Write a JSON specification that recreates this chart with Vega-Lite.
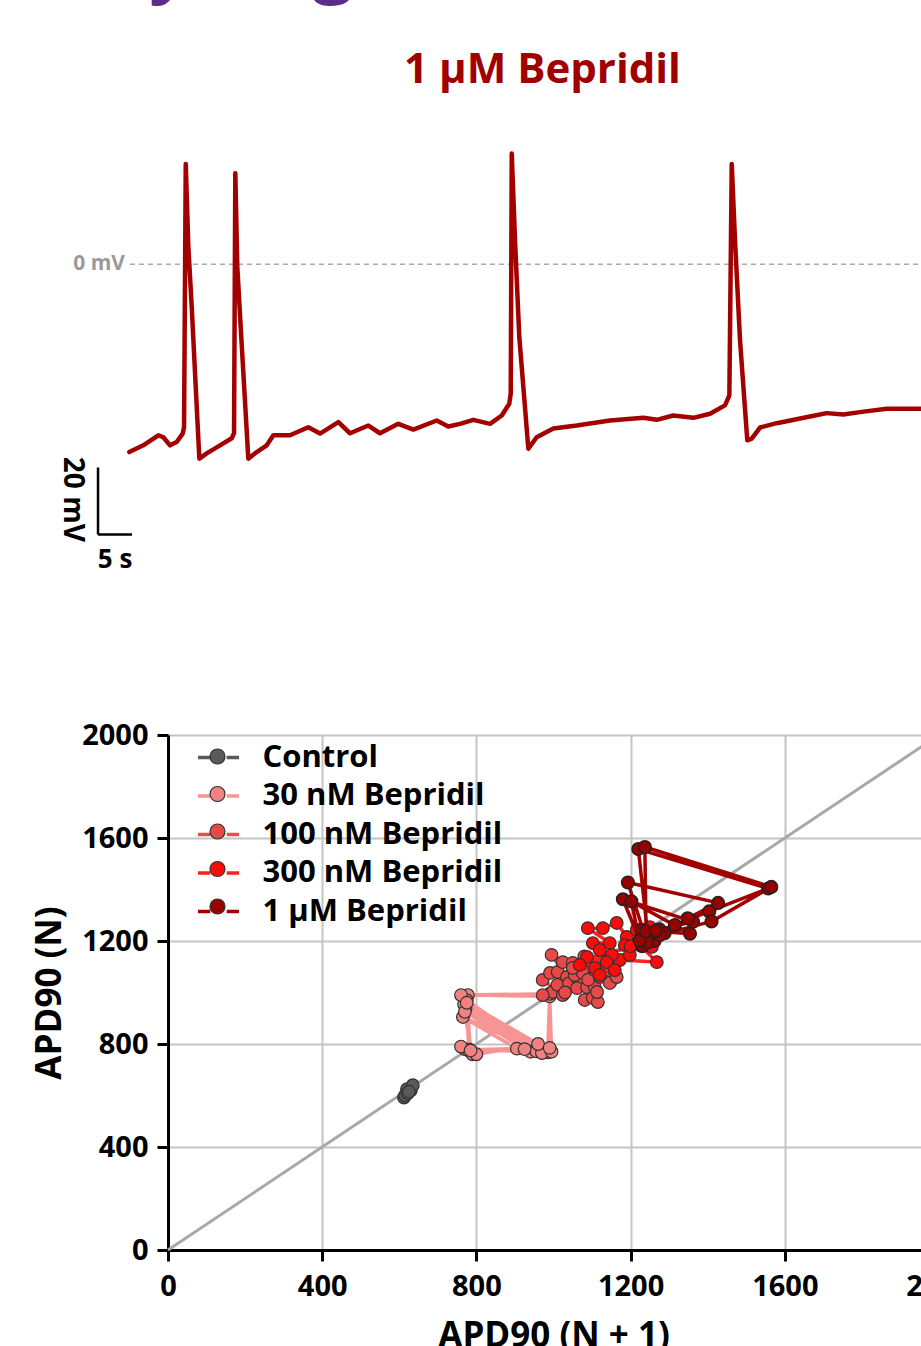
{
  "$schema": "https://vega.github.io/schema/vega-lite/v6.json",
  "background": "white",
  "padding": {"left": 32, "top": -69, "right": 0, "bottom": 0},
  "spacing": 236,
  "bounds": "flush",
  "title": {"text": "Synergistic", "color": "#5b2c8a", "font": "Open Sans", "fontSize": 72, "fontWeight": "bold", "anchor": "start", "frame": "bounds", "baseline": "alphabetic", "offset": -12, "dx": 77},
  "resolve": {"scale": {"fill": "independent", "stroke": "independent"}, "legend": {"fill": "independent", "stroke": "independent"}},
  "config": {
    "view": {"stroke": null},
    "font": "Open Sans",
    "axis": {
      "labelFont": "Open Sans", "labelFontWeight": "bold", "labelFontSize": 29, "labelColor": "#000000",
      "titleFont": "Open Sans", "titleFontWeight": "bold", "titleFontSize": 35, "titleColor": "#000000",
      "domainColor": "#000000", "domainWidth": 3, "tickColor": "#000000", "tickWidth": 3, "tickSize": 11,
      "labelPadding": 9, "gridColor": "#c4c4c4", "gridWidth": 2, "labelFlush": false, "labelOverlap": false
    }
  },
  "datasets": {
    "trace": [{"t":0.19,"v":-56},{"t":2.25,"v":-54},{"t":4.46,"v":-51},{"t":5.2,"v":-51.6},{"t":6.18,"v":-54},{"t":7.16,"v":-53},{"t":8.04,"v":-50.5},{"t":8.24,"v":-48.6},{"t":8.49,"v":29.9},{"t":8.87,"v":5.2},{"t":9.37,"v":-12.8},{"t":10.49,"v":-58},{"t":11.57,"v":-56.4},{"t":13.53,"v":-54},{"t":15.25,"v":-51.9},{"t":15.59,"v":-50.4},{"t":15.78,"v":27.1},{"t":16.07,"v":-0.8},{"t":16.57,"v":-18.7},{"t":17.69,"v":-58},{"t":18.93,"v":-56},{"t":20.4,"v":-54},{"t":21.37,"v":-51},{"t":23.82,"v":-51},{"t":26.51,"v":-48.6},{"t":28.24,"v":-50.5},{"t":30.93,"v":-47.1},{"t":32.65,"v":-50.4},{"t":35.34,"v":-48.1},{"t":37.06,"v":-50.4},{"t":39.75,"v":-47.6},{"t":41.96,"v":-49.3},{"t":45.4,"v":-46.6},{"t":47.1,"v":-48.4},{"t":48.82,"v":-47.6},{"t":50.78,"v":-46.4},{"t":53.24,"v":-47.6},{"t":54.96,"v":-45.1},{"t":56.07,"v":-41.6},{"t":56.28,"v":-38.6},{"t":56.43,"v":33},{"t":56.91,"v":7.2},{"t":57.54,"v":-21.7},{"t":58.87,"v":-55},{"t":60.1,"v":-51.6},{"t":62.54,"v":-49},{"t":65.99,"v":-48.1},{"t":70.88,"v":-46.6},{"t":75.78,"v":-45.8},{"t":77.75,"v":-46.4},{"t":80.19,"v":-45.1},{"t":83.13,"v":-45.8},{"t":85.59,"v":-44.6},{"t":87.79,"v":-42.1},{"t":88.43,"v":-39.1},{"t":88.78,"v":29.9},{"t":89.26,"v":7.2},{"t":90,"v":-22.7},{"t":91.07,"v":-52.5},{"t":91.72,"v":-52},{"t":92.94,"v":-48.7},{"t":95.4,"v":-47.4},{"t":100.29,"v":-45.4},{"t":102.75,"v":-44.4},{"t":105.19,"v":-44.8},{"t":107.65,"v":-44.1},{"t":111.57,"v":-43.1},{"t":116.62,"v":-43.1},{"t":121,"v":-42.8}],
    "zero": [{"t": 0.29, "t2": 125, "v": 0}],
    "bar": [{"t": -4.41, "t2": -4.41, "v": -60.6, "v2": -80.6}, {"t": -4.41, "t2": 0.59, "v": -80.6, "v2": -80.6}],
    "lbl20": [{"t": -8.24, "v": -70.1, "label": "20 mV"}],
    "lbl5": [{"t": -1.91, "v": -88.2, "label": "5 s"}],
    "lbl0": [{"t": -0.44, "v": 0, "label": "0 mV"}],
    "diag": [{"x": 0, "y": 0}, {"x": 2000, "y": 2000}],
    "apd": [
      {"group":"Control","i":1,"x":612,"y":592},{"group":"Control","i":2,"x":620,"y":625},{"group":"Control","i":3,"x":615,"y":600},{"group":"Control","i":4,"x":630,"y":620},{"group":"Control","i":5,"x":622,"y":608},{"group":"Control","i":6,"x":635,"y":640},{"group":"Control","i":7,"x":625,"y":615},
      {"group":"30 nM Bepridil","i":1,"x":780,"y":775},{"group":"30 nM Bepridil","i":2,"x":770,"y":780},{"group":"30 nM Bepridil","i":3,"x":940,"y":770},{"group":"30 nM Bepridil","i":4,"x":772,"y":940},{"group":"30 nM Bepridil","i":5,"x":955,"y":772},{"group":"30 nM Bepridil","i":6,"x":768,"y":955},{"group":"30 nM Bepridil","i":7,"x":985,"y":768},{"group":"30 nM Bepridil","i":8,"x":990,"y":985},{"group":"30 nM Bepridil","i":9,"x":778,"y":990},{"group":"30 nM Bepridil","i":10,"x":782,"y":778},{"group":"30 nM Bepridil","i":11,"x":905,"y":782},{"group":"30 nM Bepridil","i":12,"x":765,"y":905},{"group":"30 nM Bepridil","i":13,"x":970,"y":765},{"group":"30 nM Bepridil","i":14,"x":775,"y":970},{"group":"30 nM Bepridil","i":15,"x":780,"y":775},{"group":"30 nM Bepridil","i":16,"x":925,"y":780},{"group":"30 nM Bepridil","i":17,"x":770,"y":925},{"group":"30 nM Bepridil","i":18,"x":995,"y":770},{"group":"30 nM Bepridil","i":19,"x":990,"y":995},{"group":"30 nM Bepridil","i":20,"x":760,"y":990},{"group":"30 nM Bepridil","i":21,"x":790,"y":760},{"group":"30 nM Bepridil","i":22,"x":760,"y":790},{"group":"30 nM Bepridil","i":23,"x":800,"y":760},{"group":"30 nM Bepridil","i":24,"x":960,"y":800},{"group":"30 nM Bepridil","i":25,"x":775,"y":960},{"group":"30 nM Bepridil","i":26,"x":785,"y":775},{"group":"30 nM Bepridil","i":27,"x":990,"y":785},
      {"group":"100 nM Bepridil","i":1,"x":998,"y":1002},{"group":"100 nM Bepridil","i":2,"x":1024,"y":990},{"group":"100 nM Bepridil","i":3,"x":972,"y":1049},{"group":"100 nM Bepridil","i":4,"x":991,"y":1076},{"group":"100 nM Bepridil","i":5,"x":1011,"y":1080},{"group":"100 nM Bepridil","i":6,"x":1035,"y":1060},{"group":"100 nM Bepridil","i":7,"x":995,"y":1146},{"group":"100 nM Bepridil","i":8,"x":1024,"y":1118},{"group":"100 nM Bepridil","i":9,"x":1050,"y":1115},{"group":"100 nM Bepridil","i":10,"x":1010,"y":1030},{"group":"100 nM Bepridil","i":11,"x":1040,"y":1035},{"group":"100 nM Bepridil","i":12,"x":1065,"y":1045},{"group":"100 nM Bepridil","i":13,"x":1055,"y":1068},{"group":"100 nM Bepridil","i":14,"x":1076,"y":1076},{"group":"100 nM Bepridil","i":15,"x":1076,"y":1115},{"group":"100 nM Bepridil","i":16,"x":1100,"y":1118},{"group":"100 nM Bepridil","i":17,"x":1050,"y":1095},{"group":"100 nM Bepridil","i":18,"x":1061,"y":1017},{"group":"100 nM Bepridil","i":19,"x":1087,"y":1021},{"group":"100 nM Bepridil","i":20,"x":1107,"y":1021},{"group":"100 nM Bepridil","i":21,"x":1081,"y":971},{"group":"100 nM Bepridil","i":22,"x":1102,"y":979},{"group":"100 nM Bepridil","i":23,"x":1115,"y":963},{"group":"100 nM Bepridil","i":24,"x":1113,"y":1002},{"group":"100 nM Bepridil","i":25,"x":1090,"y":1050},{"group":"100 nM Bepridil","i":26,"x":1107,"y":1087},{"group":"100 nM Bepridil","i":27,"x":1128,"y":1099},{"group":"100 nM Bepridil","i":28,"x":1120,"y":1060},{"group":"100 nM Bepridil","i":29,"x":1151,"y":1049},{"group":"100 nM Bepridil","i":30,"x":1146,"y":1037},{"group":"100 nM Bepridil","i":31,"x":1164,"y":1060},{"group":"100 nM Bepridil","i":32,"x":1140,"y":1120},{"group":"100 nM Bepridil","i":33,"x":1080,"y":1140},{"group":"100 nM Bepridil","i":34,"x":972,"y":990},{"group":"100 nM Bepridil","i":35,"x":1030,"y":1000},
      {"group":"300 nM Bepridil","i":1,"x":1102,"y":1192},{"group":"300 nM Bepridil","i":2,"x":1146,"y":1192},{"group":"300 nM Bepridil","i":3,"x":1089,"y":1250},{"group":"300 nM Bepridil","i":4,"x":1128,"y":1250},{"group":"300 nM Bepridil","i":5,"x":1164,"y":1270},{"group":"300 nM Bepridil","i":6,"x":1190,"y":1216},{"group":"300 nM Bepridil","i":7,"x":1216,"y":1243},{"group":"300 nM Bepridil","i":8,"x":1250,"y":1254},{"group":"300 nM Bepridil","i":9,"x":1255,"y":1177},{"group":"300 nM Bepridil","i":10,"x":1185,"y":1184},{"group":"300 nM Bepridil","i":11,"x":1224,"y":1184},{"group":"300 nM Bepridil","i":12,"x":1268,"y":1118},{"group":"300 nM Bepridil","i":13,"x":1172,"y":1126},{"group":"300 nM Bepridil","i":14,"x":1120,"y":1165},{"group":"300 nM Bepridil","i":15,"x":1151,"y":1146},{"group":"300 nM Bepridil","i":16,"x":1198,"y":1146},{"group":"300 nM Bepridil","i":17,"x":1087,"y":1138},{"group":"300 nM Bepridil","i":18,"x":1138,"y":1118},{"group":"300 nM Bepridil","i":19,"x":1107,"y":1095},{"group":"300 nM Bepridil","i":20,"x":1159,"y":1087},{"group":"300 nM Bepridil","i":21,"x":1120,"y":1068},{"group":"300 nM Bepridil","i":22,"x":1068,"y":1107},{"group":"300 nM Bepridil","i":23,"x":1200,"y":1180},{"group":"300 nM Bepridil","i":24,"x":1240,"y":1215},
      {"group":"1 μM Bepridil","i":1,"x":1262,"y":1200},{"group":"1 μM Bepridil","i":2,"x":1315,"y":1262},{"group":"1 μM Bepridil","i":3,"x":1404,"y":1315},{"group":"1 μM Bepridil","i":4,"x":1557,"y":1404},{"group":"1 μM Bepridil","i":5,"x":1220,"y":1557},{"group":"1 μM Bepridil","i":6,"x":1245,"y":1220},{"group":"1 μM Bepridil","i":7,"x":1275,"y":1245},{"group":"1 μM Bepridil","i":8,"x":1362,"y":1275},{"group":"1 μM Bepridil","i":9,"x":1180,"y":1362},{"group":"1 μM Bepridil","i":10,"x":1230,"y":1180},{"group":"1 μM Bepridil","i":11,"x":1288,"y":1230},{"group":"1 μM Bepridil","i":12,"x":1348,"y":1288},{"group":"1 μM Bepridil","i":13,"x":1427,"y":1348},{"group":"1 μM Bepridil","i":14,"x":1193,"y":1427},{"group":"1 μM Bepridil","i":15,"x":1243,"y":1193},{"group":"1 μM Bepridil","i":16,"x":1228,"y":1243},{"group":"1 μM Bepridil","i":17,"x":1354,"y":1228},{"group":"1 μM Bepridil","i":18,"x":1202,"y":1354},{"group":"1 μM Bepridil","i":19,"x":1223,"y":1202},{"group":"1 μM Bepridil","i":20,"x":1276,"y":1223},{"group":"1 μM Bepridil","i":21,"x":1410,"y":1276},{"group":"1 μM Bepridil","i":22,"x":1565,"y":1410},{"group":"1 μM Bepridil","i":23,"x":1237,"y":1565},{"group":"1 μM Bepridil","i":24,"x":1240,"y":1237},{"group":"1 μM Bepridil","i":25,"x":1265,"y":1240}
    ]
  },
  "vconcat": [
    {
      "width": 771,
      "height": 369,
      "title": {"text": "1 μM Bepridil", "color": "#a00000", "font": "Open Sans", "fontSize": 42, "fontWeight": "bold", "anchor": "middle", "frame": "group", "baseline": "alphabetic", "offset": 5, "dx": -11},
      "layer": [
        {"data": {"name": "zero"}, "mark": {"type": "rule", "stroke": "#aaaaaa", "strokeWidth": 1.5, "strokeDash": [5, 4]},
         "encoding": {
           "x": {"field": "t", "type": "quantitative", "scale": {"domain": [5.88, 119.26], "nice": false, "zero": false}, "axis": null},
           "x2": {"field": "t2"},
           "y": {"field": "v", "type": "quantitative", "scale": {"domain": [-70, 40], "nice": false, "zero": false}, "axis": null}
         }},
        {"data": {"name": "trace"}, "mark": {"type": "line", "stroke": "#a30000", "strokeWidth": 4.5, "strokeJoin": "round", "strokeCap": "round"},
         "encoding": {"x": {"field": "t", "type": "quantitative", "axis": null}, "y": {"field": "v", "type": "quantitative", "axis": null}}},
        {"data": {"name": "bar"}, "mark": {"type": "rule", "stroke": "#000000", "strokeWidth": 2.5},
         "encoding": {"x": {"field": "t", "type": "quantitative", "axis": null}, "x2": {"field": "t2"}, "y": {"field": "v", "type": "quantitative", "axis": null}, "y2": {"field": "v2"}}},
        {"data": {"name": "lbl20"}, "mark": {"type": "text", "angle": 90, "fontSize": 28, "fontWeight": "bold", "font": "Open Sans", "color": "#000000", "align": "center", "baseline": "middle"},
         "encoding": {"x": {"field": "t", "type": "quantitative", "axis": null}, "y": {"field": "v", "type": "quantitative", "axis": null}, "text": {"field": "label"}}},
        {"data": {"name": "lbl5"}, "mark": {"type": "text", "fontSize": 26, "fontWeight": "bold", "font": "Open Sans", "color": "#000000", "align": "center", "baseline": "middle"},
         "encoding": {"x": {"field": "t", "type": "quantitative", "axis": null}, "y": {"field": "v", "type": "quantitative", "axis": null}, "text": {"field": "label"}}},
        {"data": {"name": "lbl0"}, "mark": {"type": "text", "fontSize": 21, "fontWeight": "bold", "font": "Open Sans", "color": "#9a9a9a", "align": "right", "baseline": "middle"},
         "encoding": {"x": {"field": "t", "type": "quantitative", "axis": null}, "y": {"field": "v", "type": "quantitative", "axis": null}, "text": {"field": "label"}}}
      ]
    },
    {
      "width": 771,
      "height": 515,
      "layer": [
        {"data": {"name": "diag"}, "mark": {"type": "line", "stroke": "#a8a8a8", "strokeWidth": 3},
         "encoding": {
           "x": {"field": "x", "type": "quantitative", "scale": {"domain": [0, 2000], "nice": false, "zero": false}, "axis": {"values": [0, 400, 800, 1200, 1600, 2000], "format": "d", "title": "APD90 (N + 1)", "grid": true, "labelPadding": 11, "titlePadding": 17}},
           "y": {"field": "y", "type": "quantitative", "scale": {"domain": [0, 2000], "nice": false, "zero": false}, "axis": {"values": [0, 400, 800, 1200, 1600, 2000], "format": "d", "title": "APD90 (N)", "grid": true, "labelPadding": 9, "titlePadding": 14}}
         }},
        {"data": {"name": "apd"}, "transform": [{"filter": "datum.group === 'Control'"}],
         "mark": {"type": "line", "strokeWidth": 3.5, "strokeJoin": "round"},
         "encoding": {"x": {"field": "x", "type": "quantitative"}, "y": {"field": "y", "type": "quantitative"}, "order": {"field": "i", "type": "quantitative"},
           "stroke": {"field": "group", "type": "nominal", "scale": {"domain": ["Control", "30 nM Bepridil", "100 nM Bepridil", "300 nM Bepridil", "1 μM Bepridil"], "range": ["#5a5a5a", "#f79494", "#ea4d4d", "#ff1f1f", "#a30000"]},
             "legend": {"orient": "none", "legendX": 0, "legendY": 0, "title": null, "symbolType": "M-1,0H-0.4M0.4,0H1", "symbolSize": 1681, "symbolStrokeWidth": 3.5, "labelFont": "Open Sans", "labelFontWeight": "bold", "labelFontSize": 31, "labelColor": "#000000", "labelOffset": 21.5, "symbolOffset": 28, "rowPadding": 0.5, "padding": 0, "labelLimit": 400, "zindex": 1}}}},
        {"data": {"name": "apd"}, "transform": [{"filter": "datum.group === 'Control'"}],
         "mark": {"type": "circle", "size": 160, "stroke": "#333333", "strokeWidth": 1.2, "opacity": 1},
         "encoding": {"x": {"field": "x", "type": "quantitative"}, "y": {"field": "y", "type": "quantitative"},
           "fill": {"field": "group", "type": "nominal", "scale": {"domain": ["Control", "30 nM Bepridil", "100 nM Bepridil", "300 nM Bepridil", "1 μM Bepridil"], "range": ["#5a5a5a", "#f38181", "#e94848", "#ff0a0a", "#990000"]},
             "legend": {"orient": "top-left", "offset": 0, "title": null, "symbolType": "M-0.366,0A0.366,0.366,0,1,1,0.366,0A0.366,0.366,0,1,1,-0.366,0Z", "symbolSize": 1681, "symbolStrokeWidth": 1.2, "symbolStrokeColor": "#333333", "symbolOpacity": 1, "labelFont": "Open Sans", "labelFontWeight": "bold", "labelFontSize": 31, "labelColor": "transparent", "labelOffset": 21.5, "symbolOffset": 28, "rowPadding": 0.5, "padding": 0, "labelLimit": 400, "zindex": 2}}}},
        {"data": {"name": "apd"}, "transform": [{"filter": "datum.group === '30 nM Bepridil'"}],
         "mark": {"type": "line", "strokeWidth": 3.5, "strokeJoin": "round"},
         "encoding": {"x": {"field": "x", "type": "quantitative"}, "y": {"field": "y", "type": "quantitative"}, "order": {"field": "i", "type": "quantitative"}, "stroke": {"field": "group", "type": "nominal"}}},
        {"data": {"name": "apd"}, "transform": [{"filter": "datum.group === '30 nM Bepridil'"}],
         "mark": {"type": "circle", "size": 160, "stroke": "#333333", "strokeWidth": 1.2, "opacity": 1},
         "encoding": {"x": {"field": "x", "type": "quantitative"}, "y": {"field": "y", "type": "quantitative"}, "fill": {"field": "group", "type": "nominal"}}},
        {"data": {"name": "apd"}, "transform": [{"filter": "datum.group === '100 nM Bepridil'"}],
         "mark": {"type": "line", "strokeWidth": 3.5, "strokeJoin": "round"},
         "encoding": {"x": {"field": "x", "type": "quantitative"}, "y": {"field": "y", "type": "quantitative"}, "order": {"field": "i", "type": "quantitative"}, "stroke": {"field": "group", "type": "nominal"}}},
        {"data": {"name": "apd"}, "transform": [{"filter": "datum.group === '100 nM Bepridil'"}],
         "mark": {"type": "circle", "size": 160, "stroke": "#333333", "strokeWidth": 1.2, "opacity": 1},
         "encoding": {"x": {"field": "x", "type": "quantitative"}, "y": {"field": "y", "type": "quantitative"}, "fill": {"field": "group", "type": "nominal"}}},
        {"data": {"name": "apd"}, "transform": [{"filter": "datum.group === '300 nM Bepridil'"}],
         "mark": {"type": "line", "strokeWidth": 3.5, "strokeJoin": "round"},
         "encoding": {"x": {"field": "x", "type": "quantitative"}, "y": {"field": "y", "type": "quantitative"}, "order": {"field": "i", "type": "quantitative"}, "stroke": {"field": "group", "type": "nominal"}}},
        {"data": {"name": "apd"}, "transform": [{"filter": "datum.group === '300 nM Bepridil'"}],
         "mark": {"type": "circle", "size": 160, "stroke": "#333333", "strokeWidth": 1.2, "opacity": 1},
         "encoding": {"x": {"field": "x", "type": "quantitative"}, "y": {"field": "y", "type": "quantitative"}, "fill": {"field": "group", "type": "nominal"}}},
        {"data": {"name": "apd"}, "transform": [{"filter": "datum.group === '1 μM Bepridil'"}],
         "mark": {"type": "line", "strokeWidth": 3.5, "strokeJoin": "round"},
         "encoding": {"x": {"field": "x", "type": "quantitative"}, "y": {"field": "y", "type": "quantitative"}, "order": {"field": "i", "type": "quantitative"}, "stroke": {"field": "group", "type": "nominal"}}},
        {"data": {"name": "apd"}, "transform": [{"filter": "datum.group === '1 μM Bepridil'"}],
         "mark": {"type": "circle", "size": 160, "stroke": "#222222", "strokeWidth": 1.5, "opacity": 1},
         "encoding": {"x": {"field": "x", "type": "quantitative"}, "y": {"field": "y", "type": "quantitative"}, "fill": {"field": "group", "type": "nominal"}}}
      ]
    }
  ]
}
